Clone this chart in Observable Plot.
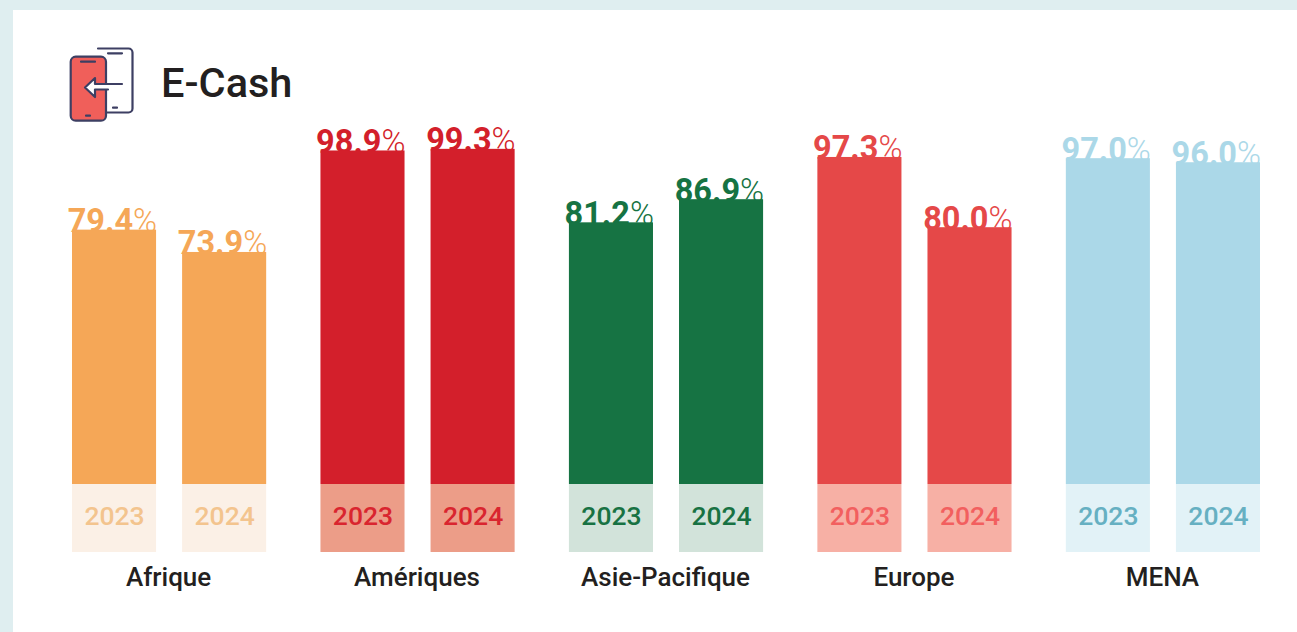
<!DOCTYPE html>
<html lang="fr">
<head>
<meta charset="utf-8">
<script src="https://cdn.jsdelivr.net/npm/d3@7"></script>
<script src="https://cdn.jsdelivr.net/npm/@observablehq/plot@0.6"></script>
<style>
html,body{margin:0;padding:0;background:#dfeef0;width:1297px;height:632px;overflow:hidden}
#card{position:absolute;left:13px;top:10px;width:1284px;height:622px;background:#fff}
#head{position:relative;height:100px;font-family:Roboto,sans-serif}
#head svg{position:absolute;left:56px;top:37px}
#title{position:absolute;left:148px;top:48px;font-size:41.5px;line-height:50px;font-weight:500;color:#231f20}
</style>
</head>
<body>
<div id="card">
<div id="head">
<svg width="66" height="76" viewBox="0 0 66 76" fill="none" stroke="#3d3f63" stroke-width="2.200" stroke-linecap="round" stroke-linejoin="round">
<path d="M29 1.500 H59.500 a4 4 0 0 1 4 4 V61.500 a4 4 0 0 1 -4 4 H37"/>
<path d="M39 6.300 H53 M44 60.700 H48"/>
<rect x="1.700" y="9.700" width="35.300" height="64" rx="5" fill="#f05f5a"/>
<path d="M12 14.700 H26 M17 68.700 H21"/>
<path d="M53 37 H26 V31 L16 40.500 L26 50 V42.500 H39" fill="#fff"/>
</svg>
<div id="title">E-Cash</div>
</div>
<div id="chart"></div>
</div>
<script>
const regions = ["Afrique", "Amériques", "Asie-Pacifique", "Europe", "MENA"];
const years = ["2023", "2024"];
const values2023 = [79.4, 98.9, 81.2, 97.3, 97.0];
const values2024 = [73.9, 99.3, 86.9, 80.0, 96.0];
const barColors = ["#f5a757", "#d31f2b", "#167343", "#e54848", "#abd8e8"];
const bandColors = ["#fbf0e6", "#ec9d88", "#d2e3da", "#f7b0a5", "#e2f2f7"];
const yearColors = ["#f3c48e", "#d9252f", "#187243", "#f25f5f", "#66b0c2"];
const bandTop = 16.75;
const bandLabelAt = 8.85;

const rows = regions.flatMap((region, i) => [values2023[i], values2024[i]].map((value, j) => ({
  region, year: years[j], value,
  bar: barColors[i], band: bandColors[i], yearColor: yearColors[i]
})));

const font = "Roboto, sans-serif";
const chart = Plot.plot({
  width: 1284,
  height: 522,
  marginLeft: 59,
  marginRight: 37,
  marginTop: 36,
  marginBottom: 80,
  style: {fontFamily: font, background: "transparent", textRendering: "optimizeLegibility"},
  fx: {domain: regions, padding: 0.2185, round: false, label: null, axis: null},
  x: {domain: years, paddingInner: 0.2364, paddingOuter: 0, round: false, axis: null},
  y: {domain: [0, 100], axis: null},
  color: {type: "identity"},
  marks: [
    Plot.text(rows, {fx: "region", x: "year", y: "value", text: d => d.value.toFixed(1),
      fill: "bar", textAnchor: "end", lineAnchor: "bottom", dx: 18.5, dy: 2, fontSize: 32.5, fontWeight: 700}),
    Plot.text(rows, {fx: "region", x: "year", y: "value", text: () => "%",
      fill: "bar", textAnchor: "start", lineAnchor: "bottom", dx: 18.5, dy: 2, fontSize: 32.5, fontWeight: 300}),
    Plot.barY(rows, {fx: "region", x: "year", y1: () => bandTop, y2: "value", fill: "bar"}),
    Plot.barY(rows, {fx: "region", x: "year", y1: () => 0, y2: () => bandTop, fill: "band"}),
    Plot.text(rows, {fx: "region", x: "year", y: () => bandLabelAt, text: "year",
      fill: "yearColor", fontSize: 26.5, fontWeight: 500}),
    Plot.axisFx({anchor: "bottom", tickSize: 0, tickPadding: 15, label: null, dx: -1,
      fontSize: 26, fontWeight: 500, fill: "#231f20"})
  ]
});
document.getElementById("chart").append(chart);
</script>
</body>
</html>
